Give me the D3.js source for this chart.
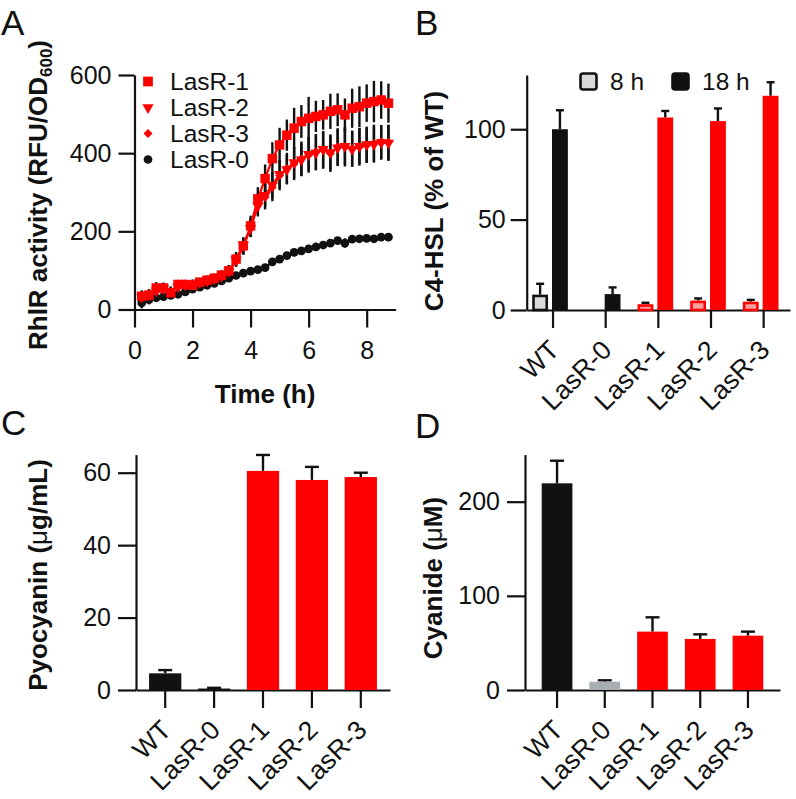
<!DOCTYPE html>
<html><head><meta charset="utf-8">
<script src="https://cdn.jsdelivr.net/npm/d3@7"></script>
<style>
body{margin:0;background:#fff}
text{font-family:"Liberation Sans",Arial,Helvetica,sans-serif}
</style></head><body>
<svg id="fig" width="796" height="799"></svg>
<script>
// ---------------- DATA ----------------
// Panel A: RhlR activity time course
const timeH = [0.25,0.5,0.75,1,1.25,1.5,1.75,2,2.25,2.5,2.75,3,3.25,3.5,3.75,4,4.25,4.5,4.75,5,5.25,5.5,5.75,6,6.25,6.5,6.75,7,7.25,7.5,7.75,8,8.25,8.5,8.75];
const lasR1 = [34,37,55,55,43,64,64,62,70,75,80,88,99,129,163,214,283,335,386,421,446,464,481,489,494,498,507,511,498,515,519,528,532,536,528];
const lasR1Sd = [15,14,15,14,13,12,12,11,11,12,12,13,15,18,22,26,30,36,42,44,40,52,42,55,40,38,45,42,42,50,52,48,53,48,50];
const lasR2 = [32,38,48,54,47,58,63,66,70,73,79,85,98,127,165,208,265,292,318,346,358,376,383,397,401,410,402,414,418,410,418,422,423,427,426];
const lasR2Sd = [12,13,12,13,12,11,10,11,10,11,12,12,14,16,19,23,27,30,34,36,38,40,42,44,45,46,46,47,48,45,47,46,47,44,46];
const lasR3 = [30,40,50,52,45,60,62,64,68,74,78,86,96,125,160,210,270,288,313,343,361,373,386,395,403,408,399,416,416,412,416,420,425,429,428];
const lasR3Sd = [12,12,13,12,12,11,11,10,10,11,11,12,14,16,20,24,28,32,36,38,40,42,44,45,46,48,47,48,50,46,48,45,48,43,45];
const lasR0 = [17,25,30,33,36,39,45,52,57,62,67,73,80,87,93,98,102,107,122,129,138,146,150,155,160,165,170,176,170,180,181,182,181,185,185];
const lasR0Sd = [14,12,10,9,8,7,7,7,6,6,6,6,6,6,6,6,6,7,7,7,7,7,7,8,8,8,8,8,12,8,8,8,8,8,10];
const seriesNamesA = ['LasR-1','LasR-2','LasR-3','LasR-0'];
const rhlrTicks = [0,200,400,600];
const timeTicks = [0,2,4,6,8];

// Panels B-D categories
const strains = ['WT','LasR-0','LasR-1','LasR-2','LasR-3'];
// Panel B: C4-HSL (% of WT)
const timepointsB = ['8 h','18 h'];
const c4At8h = [8.5, 0, 3.2, 5.2, 4.6];
const c4At8hErr = [6, 0, 0.8, 1.2, 1.0];
const c4At18h = [100, 8.8, 106.5, 104.5, 118.5];
const c4At18hErr = [10.5, 3.7, 3.6, 7, 7.5];
const c4Ticks = [0,50,100];
// Panel C: Pyocyanin (ug/mL)
const pyocyanin = [4.6, 0.4, 60.5, 58.0, 58.8];
const pyocyaninErr = [0.9, 0.2, 4.4, 3.6, 1.2];
const pyoTicks = [0,20,40,60];
// Panel D: Cyanide (uM)
const cyanide = [219.5, 8.8, 62, 54.2, 57.7];
const cyanideErr = [24, 1.5, 15.2, 4.9, 4.3];
const cyanTicks = [0,100,200];

// ---------------- STYLE ----------------
const RED = '#ff0000', BLACK = '#111111', GRAY8 = '#d9d9d9', PINK = '#f7a1a1', GRAYD = '#a8afb2';
const TICKFONT = 25, TITLEFONT = 26, ROTFONT = 26.5;
const svg = d3.select('#fig');

function styleAxis(g) {
  g.selectAll('path,line').attr('stroke', BLACK).attr('stroke-width', 2.2);
  g.selectAll('text').attr('font-size', TICKFONT).attr('fill', BLACK)
    .attr('font-family', '"Liberation Sans",Arial,sans-serif');
}

function panelLetter(t, x, y) {
  svg.append('text').attr('x', x).attr('y', y).attr('font-size', 35).attr('fill', BLACK).text(t);
}

function yTitle(x, y, parts) {
  const t = svg.append('text').attr('transform', `translate(${x},${y}) rotate(-90)`)
    .attr('text-anchor', 'middle').attr('font-size', TITLEFONT).attr('font-weight', 'bold').attr('fill', BLACK);
  parts.forEach(p => {
    const s = t.append('tspan').text(p.t);
    if (p.size) s.attr('font-size', p.size);
    if (p.dy) s.attr('dy', p.dy);
    if (p.w) s.attr('font-weight', p.w);
  });
}

// ---------------- PANEL A ----------------
panelLetter('A', 1, 35);
const xA = d3.scaleLinear().domain([0, 9]).range([134.5, 395.7]);
const yA = d3.scaleLinear().domain([0, 600]).range([309.5, 75]);
const gA = svg.append('g');
gA.append('g').attr('transform', `translate(0,${yA(0)})`)
  .call(d3.axisBottom(xA).tickValues(timeTicks).tickSize(18).tickPadding(14).tickSizeOuter(0)).call(styleAxis);
gA.append('g').attr('transform', `translate(${xA(0)},0)`)
  .call(d3.axisLeft(yA).tickValues(rhlrTicks).tickSize(16).tickPadding(7).tickSizeOuter(0)).call(styleAxis);

const seriesA = [
  {name:'LasR-0', v:lasR0, sd:lasR0Sd, color:BLACK, sym:d3.symbolCircle, size:60, rot:0},
  {name:'LasR-3', v:lasR3, sd:lasR3Sd, color:RED, sym:d3.symbolSquare, size:40, rot:45},
  {name:'LasR-2', v:lasR2, sd:lasR2Sd, color:RED, sym:d3.symbolTriangle, size:55, rot:180},
  {name:'LasR-1', v:lasR1, sd:lasR1Sd, color:RED, sym:d3.symbolSquare, size:90, rot:0}
];
// error bars
seriesA.forEach(s => {
  gA.append('g').selectAll('line').data(timeH).join('line')
    .attr('x1', (t) => xA(t)).attr('x2', (t) => xA(t))
    .attr('y1', (t, i) => yA(s.v[i] - s.sd[i])).attr('y2', (t, i) => yA(s.v[i] + s.sd[i]))
    .attr('stroke', BLACK).attr('stroke-width', 2.4);
});
seriesA.forEach(s => {
  const line = d3.line().x((t) => xA(t)).y((t, i) => yA(s.v[i]));
  gA.append('path').datum(timeH).attr('d', line).attr('fill', 'none')
    .attr('stroke', s.color).attr('stroke-width', 2.2);
  gA.append('g').selectAll('path').data(timeH).join('path')
    .attr('d', d3.symbol().type(s.sym).size(s.size))
    .attr('transform', (t, i) => `translate(${xA(t)},${yA(s.v[i])}) rotate(${s.rot})`)
    .attr('fill', s.color);
});
// legend A
const legA = [
  {name:seriesNamesA[0], color:RED, sym:d3.symbolSquare, size:95, rot:0},
  {name:seriesNamesA[1], color:RED, sym:d3.symbolTriangle, size:55, rot:180},
  {name:seriesNamesA[2], color:RED, sym:d3.symbolSquare, size:40, rot:45},
  {name:seriesNamesA[3], color:BLACK, sym:d3.symbolCircle, size:60, rot:0}
];
const legAy = d3.scalePoint().domain(seriesNamesA).range([81.5, 159.5]);
legA.forEach(l => {
  gA.append('path').attr('d', d3.symbol().type(l.sym).size(l.size)())
    .attr('transform', `translate(148,${legAy(l.name)}) rotate(${l.rot})`).attr('fill', l.color);
  gA.append('text').attr('x', 170).attr('y', legAy(l.name)).attr('dy', '0.36em')
    .attr('font-size', 24.5).attr('fill', BLACK).text(l.name);
});
// titles A
svg.append('text').attr('x', xA(4.5)).attr('y', 403).attr('text-anchor', 'middle')
  .attr('font-size', TITLEFONT).attr('font-weight', 'bold').attr('fill', BLACK).text('Time (h)');
yTitle(47, 195, [{t:'RhlR activity (RFU/OD'}, {t:'600', size:17, dy:5}, {t:')', size:TITLEFONT, dy:-5}]);

// ---------------- helpers for bar panels ----------------
function rotatedLabels(g, xs, tickEnd) {
  g.append('g').selectAll('text').data(strains).join('text')
    .attr('transform', d => `translate(${xs(d) + 1},${tickEnd + 17}) rotate(-45)`)
    .attr('text-anchor', 'end').attr('dy', '0.35em')
    .attr('font-size', ROTFONT).attr('fill', BLACK).text(d => d);
}
function errorUp(g, x, yTop, yEnd, cap) {
  g.append('line').attr('x1', x).attr('x2', x).attr('y1', yTop).attr('y2', yEnd)
    .attr('stroke', BLACK).attr('stroke-width', 2.4);
  g.append('line').attr('x1', x - cap / 2).attr('x2', x + cap / 2).attr('y1', yEnd).attr('y2', yEnd)
    .attr('stroke', BLACK).attr('stroke-width', 2.4);
}

// ---------------- PANEL B ----------------
panelLetter('B', 415, 35);
const xB = d3.scaleBand().domain(strains).range([526.7, 790]).paddingInner(0).paddingOuter(0);
const xBsub = d3.scaleBand().domain(timepointsB).range([5.5, xB.bandwidth() - 11.5]).paddingInner(0.2);
const yB = d3.scaleLinear().domain([0, 130]).range([310, 75]);
const gB = svg.append('g');
gB.append('g').attr('transform', `translate(0,${yB(0)})`)
  .call(d3.axisBottom(xB).tickSize(18).tickSizeOuter(0).tickFormat('')).call(styleAxis);
gB.append('g').attr('transform', `translate(526.7,0)`)
  .call(d3.axisLeft(yB).tickValues(c4Ticks).tickSize(16).tickPadding(5).tickSizeOuter(0)).call(styleAxis);
rotatedLabels(gB, d => xB(d) + xB.bandwidth() / 2, yB(0) + 18);
strains.forEach((s, i) => {
  const red = i >= 2;
  // 8 h bars
  const x8 = xB(s) + xBsub('8 h');
  if (c4At8h[i] > 0) {
    if (c4At8hErr[i] > 0) errorUp(gB, x8 + xBsub.bandwidth() / 2, yB(c4At8h[i]), yB(c4At8h[i] + c4At8hErr[i]), 8);
    gB.append('rect').attr('x', x8 + 1.3).attr('width', xBsub.bandwidth() - 2.6)
      .attr('y', yB(c4At8h[i]) + 1.3).attr('height', Math.max(0, yB(0) - yB(c4At8h[i]) - 1.3))
      .attr('fill', red ? PINK : GRAY8).attr('stroke', red ? RED : BLACK).attr('stroke-width', 2.6);
  }
  // 18 h bars
  const x18 = xB(s) + xBsub('18 h');
  errorUp(gB, x18 + xBsub.bandwidth() / 2, yB(c4At18h[i]), yB(c4At18h[i] + c4At18hErr[i]), 8);
  gB.append('rect').attr('x', x18).attr('width', xBsub.bandwidth())
    .attr('y', yB(c4At18h[i])).attr('height', yB(0) - yB(c4At18h[i]))
    .attr('fill', red ? RED : BLACK);
});
// legend B
const legB = [{t:timepointsB[0], x:580.5, fill:GRAY8}, {t:timepointsB[1], x:672.5, fill:BLACK}];
legB.forEach(l => {
  gB.append('rect').attr('x', l.x).attr('y', 73.5).attr('width', 16).attr('height', 16).attr('rx', 2.5)
    .attr('fill', l.fill).attr('stroke', BLACK).attr('stroke-width', 2.6);
  gB.append('text').attr('x', l.x + 29.5).attr('y', 81.5).attr('dy', '0.36em')
    .attr('font-size', 24.5).attr('fill', BLACK).text(l.t);
});
yTitle(443, 201, [{t:'C4-HSL (% of WT)'}]);

// ---------------- PANEL C ----------------
panelLetter('C', 1, 435);
const xC = d3.scaleBand().domain(strains).range([136, 390]).paddingInner(0.34).paddingOuter(0.267);
const yC = d3.scaleLinear().domain([0, 65]).range([690, 454.6]);
const gC = svg.append('g');
gC.append('g').attr('transform', `translate(0,${yC(0)})`)
  .call(d3.axisBottom(xC).tickSize(18).tickSizeOuter(0).tickFormat('')).call(styleAxis);
gC.append('g').attr('transform', `translate(136,0)`)
  .call(d3.axisLeft(yC).tickValues(pyoTicks).tickSize(18).tickPadding(7).tickSizeOuter(0)).call(styleAxis);
rotatedLabels(gC, d => xC(d) + xC.bandwidth() / 2, yC(0) + 18);
const colC = [BLACK, BLACK, RED, RED, RED];
strains.forEach((s, i) => {
  const cx = xC(s) + xC.bandwidth() / 2;
  errorUp(gC, cx, yC(pyocyanin[i]), yC(pyocyanin[i] + pyocyaninErr[i]), 14);
  gC.append('rect').attr('x', xC(s)).attr('width', xC.bandwidth())
    .attr('y', yC(pyocyanin[i])).attr('height', yC(0) - yC(pyocyanin[i])).attr('fill', colC[i]);
});
yTitle(47, 575, [{t:'Pyocyanin ('}, {t:'\u03BC', w:'normal'}, {t:'g/mL)'}]);

// ---------------- PANEL D ----------------
panelLetter('D', 415, 438);
const xD = d3.scaleBand().domain(strains).range([525, 780]).paddingInner(0.357).paddingOuter(0.35);
const yD = d3.scaleLinear().domain([0, 250]).range([690, 454.6]);
const gD = svg.append('g');
gD.append('g').attr('transform', `translate(0,${yD(0)})`)
  .call(d3.axisBottom(xD).tickSize(18).tickSizeOuter(0).tickFormat('')).call(styleAxis);
gD.append('g').attr('transform', `translate(525,0)`)
  .call(d3.axisLeft(yD).tickValues(cyanTicks).tickSize(18).tickPadding(7).tickSizeOuter(0)).call(styleAxis);
rotatedLabels(gD, d => xD(d) + xD.bandwidth() / 2, yD(0) + 18);
const colD = [BLACK, GRAYD, RED, RED, RED];
strains.forEach((s, i) => {
  const cx = xD(s) + xD.bandwidth() / 2;
  errorUp(gD, cx, yD(cyanide[i]), yD(cyanide[i] + cyanideErr[i]), 14);
  gD.append('rect').attr('x', xD(s)).attr('width', xD.bandwidth())
    .attr('y', yD(cyanide[i])).attr('height', yD(0) - yD(cyanide[i])).attr('fill', colD[i]);
});
yTitle(442, 578, [{t:'Cyanide ('}, {t:'\u03BC', w:'normal'}, {t:'M)'}]);
</script>
</body></html>
